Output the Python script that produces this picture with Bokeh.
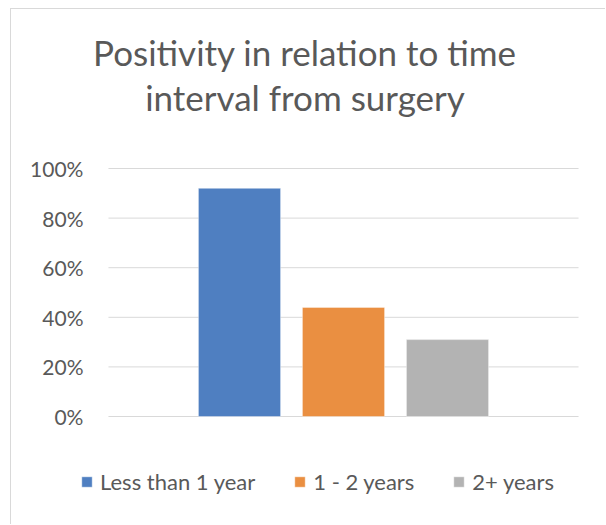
from bokeh.plotting import figure
from bokeh.models import (Range1d, ColumnDataSource, Label, LinearAxis,
                          NumeralTickFormatter, FixedTicker, Legend, LegendItem)
from bokeh.embed import file_html
from bokeh.resources import INLINE

# ---- data ----
title_lines = ["Positivity in relation to time", "interval from surgery"]
categories = ["Less than 1 year", "1 - 2 years", "2+ years"]
positivity = [0.92, 0.44, 0.31]
colors = ["#4f7fc1", "#ea8f41", "#b3b3b3"]
y_ticks = [0, 0.2, 0.4, 0.6, 0.8, 1.0]

# ---- layout / style ----
FONT = "Lato"
TXT = "#595959"
GRID = "#d9d9d9"
W, H = 595, 516
PX_PER_CAT = 104.0          # pixels between bar centres
PX_PER_UNIT_Y = 248.0       # pixels for 0..100 %
FIRST_BAR_PX = 228.0        # first bar centre from left of canvas
ZERO_PX = 407.0             # 0 % line from top of canvas
HALF_SPAN = 2.26            # half width of plot area, in category units

xs = list(range(len(categories)))
x0 = -FIRST_BAR_PX / PX_PER_CAT
x1 = x0 + W / PX_PER_CAT
y0 = -(H - ZERO_PX) / PX_PER_UNIT_Y
y1 = y0 + H / PX_PER_UNIT_Y
mid = (xs[0] + xs[-1]) / 2.0

p = figure(
    width=W, height=H,
    x_range=Range1d(x0, x1), y_range=Range1d(y0, y1),
    x_axis_location=None, y_axis_location=None,
    toolbar_location=None, output_backend="svg",
    min_border=0, outline_line_color=None,
    styles={"margin-left": "10px", "margin-top": "8px",
            "border-left": "1px solid #d9d9d9",
            "border-top": "1px solid #d9d9d9"},
)
p.xgrid.visible = False
p.ygrid.visible = False

# gridlines over plot area only
p.segment(x0=[mid - HALF_SPAN] * len(y_ticks), x1=[mid + HALF_SPAN] * len(y_ticks),
          y0=y_ticks, y1=y_ticks, line_color=GRID, line_width=1)

src = ColumnDataSource(dict(x=xs, val=positivity, color=colors, cat=categories))
r = p.vbar(x="x", top="val", width=0.79, source=src, fill_color="color",
           line_color="white", line_alpha=0.4, line_width=1)

# y axis placed at the left edge of the plot area
ax = LinearAxis(fixed_location=mid - HALF_SPAN,
                ticker=FixedTicker(ticks=y_ticks),
                formatter=NumeralTickFormatter(format="0%"))
ax.axis_line_color = None
ax.major_tick_line_color = None
ax.minor_tick_line_color = None
ax.major_label_standoff = 19
ax.major_label_text_font = FONT
ax.major_label_text_font_size = "21px"
ax.major_label_text_color = TXT
p.add_layout(ax, "left")

# title lines
for line, yy in zip(title_lines, [474, 429]):
    p.add_layout(Label(x=293.5, y=yy, x_units="screen", y_units="screen",
                       text=line, text_align="center", text_baseline="alphabetic",
                       text_font=FONT, text_font_size="35px", text_color=TXT))

# legend
items = [LegendItem(label=c, renderers=[r], index=i) for i, c in enumerate(categories)]
leg = Legend(items=items, orientation="horizontal", location=(69, 30),
             glyph_width=13, glyph_height=13, label_standoff=7, spacing=38,
             padding=0, margin=0, border_line_color=None, background_fill_alpha=0,
             label_text_font=FONT, label_text_font_size="22px", label_text_color=TXT)
p.add_layout(leg, "center")

open("out.html", "w").write(file_html(p, INLINE))
